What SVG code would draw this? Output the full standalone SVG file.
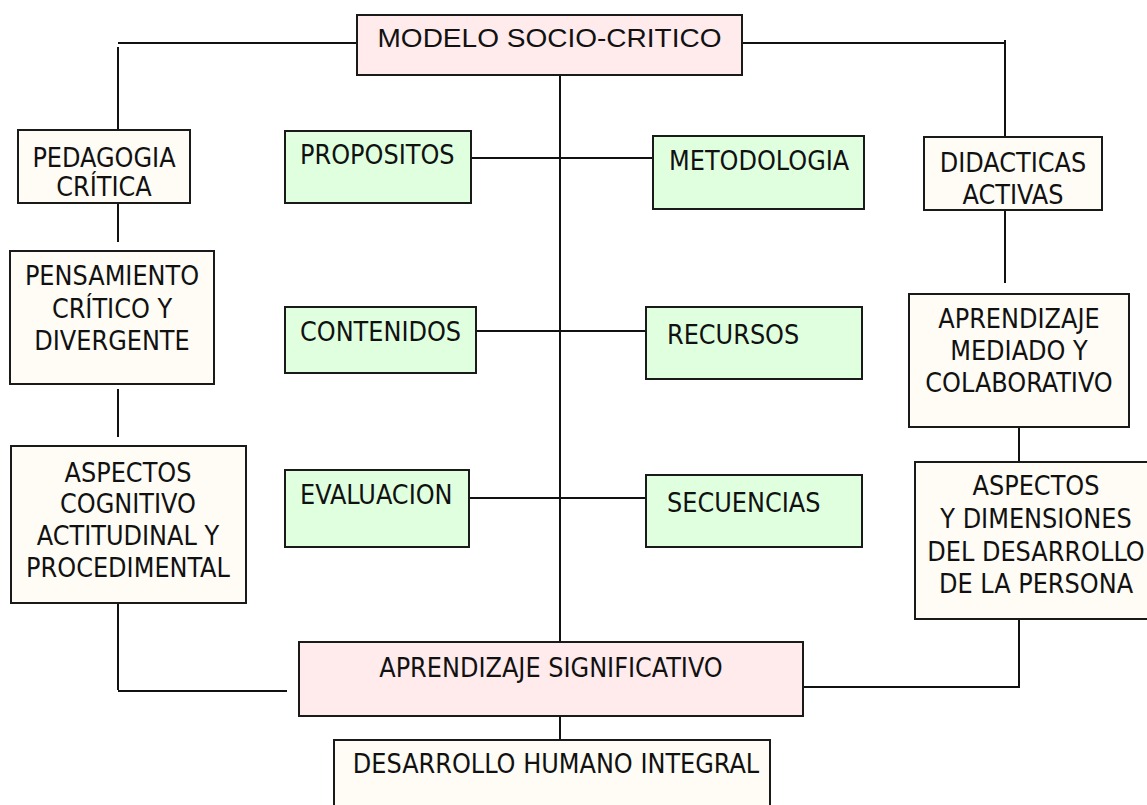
<svg xmlns="http://www.w3.org/2000/svg" width="1147" height="805" viewBox="0 0 1147 805">
<style>
  .box { stroke: #1a1a1a; stroke-width: 2; }
  .pink { fill: #FFEAEC; }
  .green { fill: #DFFFDF; }
  .cream { fill: #FFFCF5; }
  .t { font-family: "DejaVu Sans Condensed", "DejaVu Sans", sans-serif; font-size: 26.7px; fill: #111; }
  .c { text-anchor: middle; }
  .title { font-family: "Liberation Sans", Arial, sans-serif; font-size: 26px; fill: #111; text-anchor: middle; }
  .conn line, .conn polyline { stroke: #111; stroke-width: 2; fill: none; }
</style>
<rect width="1147" height="805" fill="#ffffff"/>
<g class="conn" id="connectors">
  <line x1="118" y1="43" x2="357" y2="43"/>
  <line x1="118" y1="47" x2="118" y2="130"/>
  <line x1="742" y1="43" x2="1005" y2="43"/>
  <line x1="1005" y1="40" x2="1005" y2="137"/>
  <line x1="118" y1="203" x2="118" y2="242"/>
  <line x1="118" y1="389" x2="118" y2="437"/>
  <line x1="1005" y1="210" x2="1005" y2="283"/>
  <line x1="1019" y1="427" x2="1019" y2="462"/>
  <line x1="560" y1="75" x2="560" y2="642"/>
  <line x1="471" y1="158" x2="653" y2="158"/>
  <line x1="476" y1="331" x2="646" y2="331"/>
  <line x1="469" y1="498" x2="646" y2="498"/>
  <line x1="118" y1="603" x2="118" y2="690"/>
  <line x1="118" y1="691" x2="287" y2="691"/>
  <polyline points="1019,619 1019,687 803,687"/>
  <line x1="560" y1="716" x2="560" y2="740"/>
</g>
<g id="modelo">
  <rect class="box pink" x="357" y="15" width="385" height="60"/>
  <text class="title" x="549.5" y="47" textLength="344" lengthAdjust="spacingAndGlyphs">MODELO SOCIO-CRITICO</text>
</g>
<g id="pedagogia">
  <rect class="box cream" x="18" y="130" width="172" height="73"/>
  <text class="t c" x="104" y="167">PEDAGOGIA</text>
  <text class="t c" x="104" y="196">CRÍTICA</text>
</g>
<g id="pensamiento">
  <rect class="box cream" x="10" y="251" width="204" height="133"/>
  <text class="t c" x="112" y="285">PENSAMIENTO</text>
  <text class="t c" x="112" y="318">CRÍTICO Y</text>
  <text class="t c" x="112" y="350">DIVERGENTE</text>
</g>
<g id="aspectos-cognitivo">
  <rect class="box cream" x="11" y="446" width="235" height="157"/>
  <text class="t c" x="128" y="482">ASPECTOS</text>
  <text class="t c" x="128" y="513">COGNITIVO</text>
  <text class="t c" x="128" y="545">ACTITUDINAL Y</text>
  <text class="t c" x="128" y="577">PROCEDIMENTAL</text>
</g>
<g id="propositos">
  <rect class="box green" x="285" y="131" width="186" height="72"/>
  <text class="t" x="300" y="164">PROPOSITOS</text>
</g>
<g id="contenidos">
  <rect class="box green" x="285" y="307" width="191" height="66"/>
  <text class="t" x="300" y="341">CONTENIDOS</text>
</g>
<g id="evaluacion">
  <rect class="box green" x="285" y="470" width="184" height="77"/>
  <text class="t" x="300" y="504">EVALUACION</text>
</g>
<g id="metodologia">
  <rect class="box green" x="653" y="136" width="211" height="73"/>
  <text class="t" x="669" y="170">METODOLOGIA</text>
</g>
<g id="recursos">
  <rect class="box green" x="646" y="307" width="216" height="72"/>
  <text class="t" x="667" y="344">RECURSOS</text>
</g>
<g id="secuencias">
  <rect class="box green" x="646" y="475" width="216" height="72"/>
  <text class="t" x="667" y="512">SECUENCIAS</text>
</g>
<g id="didacticas">
  <rect class="box cream" x="924" y="137" width="178" height="73"/>
  <text class="t c" x="1013" y="172">DIDACTICAS</text>
  <text class="t c" x="1013" y="204">ACTIVAS</text>
</g>
<g id="aprendizaje-mediado">
  <rect class="box cream" x="909" y="294" width="220" height="133"/>
  <text class="t c" x="1019" y="328">APRENDIZAJE</text>
  <text class="t c" x="1019" y="360">MEDIADO Y</text>
  <text class="t c" x="1019" y="392">COLABORATIVO</text>
</g>
<g id="aspectos-dimensiones">
  <rect class="box cream" x="915" y="462" width="242" height="157"/>
  <text class="t c" x="1036" y="495">ASPECTOS</text>
  <text class="t c" x="1036" y="528">Y DIMENSIONES</text>
  <text class="t c" x="1036" y="561">DEL DESARROLLO</text>
  <text class="t c" x="1036" y="593">DE LA PERSONA</text>
</g>
<g id="aprendizaje-significativo">
  <rect class="box pink" x="299" y="642" width="504" height="74"/>
  <text class="t c" x="551" y="677">APRENDIZAJE SIGNIFICATIVO</text>
</g>
<g id="desarrollo-humano">
  <rect class="box cream" x="334" y="740" width="436" height="80"/>
  <text class="t c" x="556" y="773">DESARROLLO HUMANO INTEGRAL</text>
</g>
</svg>
